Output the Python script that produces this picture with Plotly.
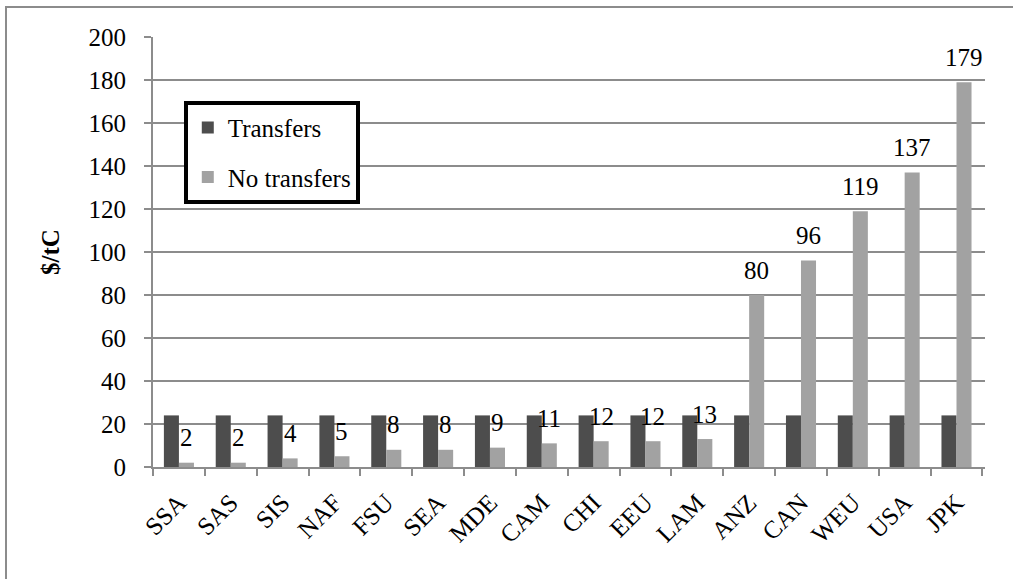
import plotly.graph_objects as go

regions = ["SSA", "SAS", "SIS", "NAF", "FSU", "SEA", "MDE", "CAM", "CHI", "EEU",
           "LAM", "ANZ", "CAN", "WEU", "USA", "JPK"]
transfers = [24, 24, 24, 24, 24, 24, 24, 24, 24, 24, 24, 24, 24, 24, 24, 24]
no_transfers = [2, 2, 4, 5, 8, 8, 9, 11, 12, 12, 13, 80, 96, 119, 137, 179]
labels_no_transfers = ["2", "2", "4", "5", "8", "8", "9", "11", "12", "12", "13",
                       "80", "96", "119", "137", "179"]
y_ticks = [0, 20, 40, 60, 80, 100, 120, 140, 160, 180, 200]

FONT = "Liberation Serif"
FS = 25
W, H = 1013, 579
ML, MR, MT, MB = 153, 28, 37, 112

fig = go.Figure()
fig.add_trace(go.Bar(name="Transfers", x=regions, y=transfers,
                     marker=dict(color="#4d4d4d", line=dict(width=0)),
                     legendgroup="a"))
fig.add_trace(go.Bar(name="No transfers", x=regions, y=no_transfers,
                     marker=dict(color="#a2a2a2", line=dict(width=0)),
                     legendgroup="b"))

for r, v, t in zip(regions, no_transfers, labels_no_transfers):
    fig.add_annotation(x=r, y=v, text=t, showarrow=False, xref="x", yref="y",
                       xshift=7.5, yshift=25, yanchor="middle",
                       font=dict(family=FONT, size=FS, color="black"))

# outer chart border
fig.add_shape(type="rect", xref="paper", yref="paper",
              x0=(6 - ML) / (W - ML - MR), x1=(1030 - ML) / (W - ML - MR),
              y0=-(600 - (H - MB)) / (H - MT - MB), y1=(H - MB - 7) / (H - MT - MB),
              line=dict(color="#8c8c8c", width=2), fillcolor="rgba(0,0,0,0)",
              layer="below")

fig.update_layout(
    width=W, height=H,
    margin=dict(l=ML, r=MR, t=MT, b=MB, pad=0),
    paper_bgcolor="white", plot_bgcolor="white",
    barmode="group", bargap=0.42, bargroupgap=0,
    font=dict(family=FONT, size=FS, color="black"),
    showlegend=True,
    legend=dict(x=0.037, y=0.852, xanchor="left", yanchor="top",
                bordercolor="black", borderwidth=4, bgcolor="white",
                font=dict(family=FONT, size=FS, color="black"),
                tracegroupgap=14, traceorder="grouped",
                itemwidth=30, entrywidth=150),
    xaxis=dict(type="category", tickangle=-45, showgrid=False,
               showline=True, linecolor="#8c8c8c", linewidth=2,
               ticks="outside", tickson="boundaries", ticklen=7,
               tickcolor="#8c8c8c", tickwidth=2, ticklabelstandoff=9,
               tickfont=dict(family=FONT, size=FS, color="black")),
    yaxis=dict(range=[0, 200], tickvals=y_ticks, showgrid=True,
               gridcolor="#8c8c8c", gridwidth=1.5,
               showline=True, linecolor="#8c8c8c", linewidth=2,
               ticks="outside", ticklen=7, tickcolor="#8c8c8c", tickwidth=2,
               ticklabelstandoff=13, zeroline=False,
               tickfont=dict(family=FONT, size=FS, color="black")),
    yaxis_title=dict(text="<b>$/tC</b>", standoff=22,
                     font=dict(family=FONT, size=FS, color="black")),
)

fig.write_html("out.html", config={"displayModeBar": False},
               post_script="document.body.style.margin='0';")
